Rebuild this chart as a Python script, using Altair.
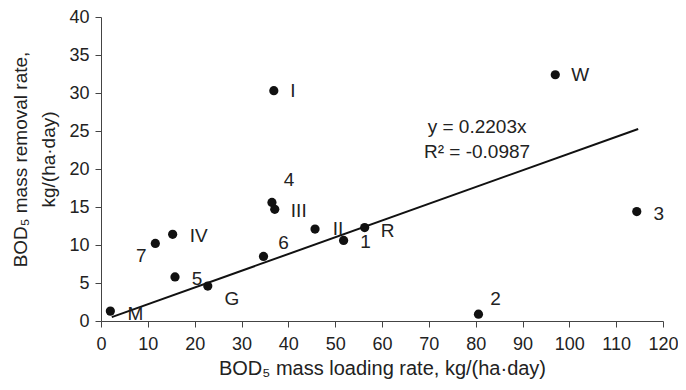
import altair as alt
import pandas as pd

labels = ["M", "7", "IV", "5", "G", "6", "4", "III", "II", "1", "R", "2", "3", "W", "I"]
loading = [2.0, 11.6, 15.3, 15.8, 22.8, 34.7, 36.5, 37.1, 45.7, 51.8, 56.3, 80.6, 114.4, 97.0, 36.9]
removal = [1.3, 10.2, 11.4, 5.8, 4.6, 8.5, 15.6, 14.7, 12.1, 10.6, 12.3, 0.9, 14.4, 32.4, 30.3]

slope = 0.2203
trend_x = [2.3, 114.7]
trend_y = [slope * v for v in trend_x]
eq_lines = ["y = 0.2203x", "R² = -0.0987"]
eq_pos = [(80.3, 25.5), (80.3, 22.2)]

# label offsets (px) per label
offsets = {
    "M": (25, 3), "7": (-14, 13), "IV": (26, 2), "5": (22, 2), "G": (24, 13),
    "6": (20, -13), "4": (17, -22), "III": (24, 2), "II": (23, 0), "1": (22, 2),
    "R": (23, 3), "2": (17, -15), "3": (22, 2), "W": (25, 0), "I": (19, 0),
}

df = pd.DataFrame({"label": labels, "x": loading, "y": removal})
tdf = pd.DataFrame({"x": trend_x, "y": trend_y})
edf = pd.DataFrame({"t": eq_lines, "x": [p[0] for p in eq_pos], "y": [p[1] for p in eq_pos]})

FONT = "Liberation Sans"
FS = 19
TFS = 18

xs = alt.Scale(domain=[0, 120], nice=False)
ys = alt.Scale(domain=[0, 40], nice=False)

xaxis = alt.Axis(
    values=list(range(0, 121, 10)), title="BOD₅ mass loading rate, kg/(ha·day)",
    grid=False, tickSize=6, domainColor="#444", tickColor="#444",
    labelFontSize=TFS, labelColor="#222", labelFont=FONT, labelPadding=8,
    labelOverlap=False, labelBound=False, labelFlush=False,
    titleFontSize=20, titleFont=FONT, titleFontWeight="normal", titleColor="#222",
    titlePadding=5)
yaxis = alt.Axis(
    values=list(range(0, 41, 5)), title=["BOD₅ mass removal rate,", "kg/(ha·day)"],
    grid=False, tickSize=6, domainColor="#444", tickColor="#444",
    labelFontSize=TFS, labelColor="#222", labelFont=FONT, labelPadding=6,
    labelOverlap=False, labelBound=False, labelFlush=False,
    titleFontSize=19, titleFont=FONT, titleFontWeight="normal", titleColor="#222",
    titleLineHeight=28, titleX=-71, titleY=142, titleBaseline="bottom")

xenc = alt.X("x:Q", scale=xs, axis=xaxis)
yenc = alt.Y("y:Q", scale=ys, axis=yaxis)

pts = alt.Chart(df).mark_circle(size=85, color="#111", opacity=1).encode(x=xenc, y=yenc)
line = alt.Chart(tdf).mark_line(color="#111", strokeWidth=2).encode(x=xenc, y=yenc)

layers = [pts, line]
for lab, (dx, dy) in offsets.items():
    layers.append(
        alt.Chart(df[df.label == lab]).mark_text(
            dx=dx, dy=dy, fontSize=FS, font=FONT, color="#222", align="center", baseline="middle"
        ).encode(x=xenc, y=yenc, text="label:N")
    )
eq = alt.Chart(edf).mark_text(fontSize=FS, font=FONT, color="#222", align="center", baseline="middle").encode(
    x=xenc, y=yenc, text="t:N")
layers.append(eq)

chart = alt.layer(*layers).properties(
    width=562, height=304,
    autosize=alt.AutoSizeParams(type="none"),
    padding={"left": 93, "top": 9, "right": 15, "bottom": 61},
).configure_view(stroke=None)

chart.save("out.html", embed_options={"renderer": "svg", "actions": False})
